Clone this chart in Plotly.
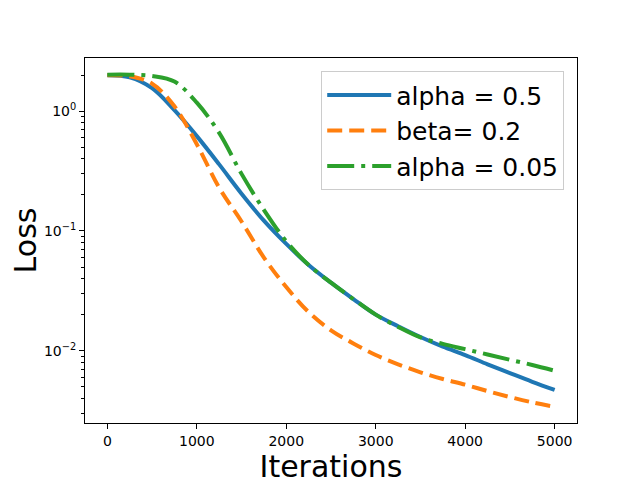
import plotly.graph_objects as go

# values (loss vs iterations, log y)
iters = [0, 250, 500, 750, 1000, 1250, 1500, 1750, 2000, 2250, 2500,
         2750, 3000, 3250, 3500, 3750, 4000, 4250, 4500, 4750, 5000]

loss_alpha_05 = [2.0, 1.92, 1.56, 1.02, 0.62, 0.36, 0.205, 0.122, 0.078, 0.052, 0.037,
                 0.027, 0.020, 0.016, 0.013, 0.0108, 0.0092, 0.0077, 0.0065, 0.0055, 0.0047]
loss_beta_02 = [2.0, 1.96, 1.7, 1.10, 0.53, 0.23, 0.12, 0.060, 0.034, 0.021, 0.0148,
                0.0115, 0.0092, 0.0077, 0.0066, 0.0058, 0.0052, 0.0046, 0.0041, 0.0037, 0.0034]
loss_alpha_005 = [2.02, 2.02, 1.97, 1.77, 1.18, 0.66, 0.30, 0.15, 0.082, 0.052, 0.037,
                  0.027, 0.020, 0.0158, 0.0129, 0.0114, 0.0103, 0.0093, 0.0084, 0.0076, 0.0068]

labels = ['alpha = 0.5', 'beta= 0.2', 'alpha = 0.05']

major_y = [1, 0.1, 0.01]
major_y_text = ['10<sup>0</sup>', '10<sup>\u22121</sup>', '10<sup>\u22122</sup>']
minor_y = [m * 10 ** e for e in (-3, -2, -1, 0) for m in range(2, 10)]

fig = go.Figure()
fig.add_trace(go.Scatter(x=iters, y=loss_alpha_05, mode='lines', name=labels[0],
                         line=dict(color='#1f77b4', width=4, shape='spline')))
fig.add_trace(go.Scatter(x=iters, y=loss_beta_02, mode='lines', name=labels[1],
                         line=dict(color='#ff7f0e', width=4, shape='spline', dash='15px,7px')))
fig.add_trace(go.Scatter(x=iters, y=loss_alpha_005, mode='lines', name=labels[2],
                         line=dict(color='#2ca02c', width=4, shape='spline',
                                   dash='27px,7px,4px,7px')))

# the page puts the plot 8px in from the top-left, so margins are shifted by 8
fig.update_layout(
    width=640, height=480,
    margin=dict(l=77, r=71, t=50, b=65),
    paper_bgcolor='white', plot_bgcolor='white',
    font=dict(family='DejaVu Sans', color='black', size=14),
    legend=dict(x=0.974, y=0.964, xanchor='right', yanchor='top',
                font=dict(size=25), bgcolor='rgba(255,255,255,0.8)',
                bordercolor='#cccccc', borderwidth=1, itemwidth=64),
)
fig.update_xaxes(range=[-250, 5250], tickvals=[0, 1000, 2000, 3000, 4000, 5000],
                 ticks='outside', ticklen=5, tickcolor='black', automargin=False,
                 showline=True, linecolor='black', linewidth=1, mirror=True,
                 showgrid=False, zeroline=False,
                 title=dict(text='Iterations', font=dict(size=30), standoff=7))
fig.update_yaxes(type='log', range=[-2.604, 0.445],
                 tickvals=major_y, ticktext=major_y_text, automargin=False,
                 ticks='outside', ticklen=5, tickcolor='black',
                 minor=dict(tickvals=minor_y, ticks='outside', ticklen=3, tickcolor='black'),
                 showline=True, linecolor='black', linewidth=1, mirror=True,
                 showgrid=False, zeroline=False,
                 title=dict(text='Loss', font=dict(size=30), standoff=6))

fig.write_html('out.html')
